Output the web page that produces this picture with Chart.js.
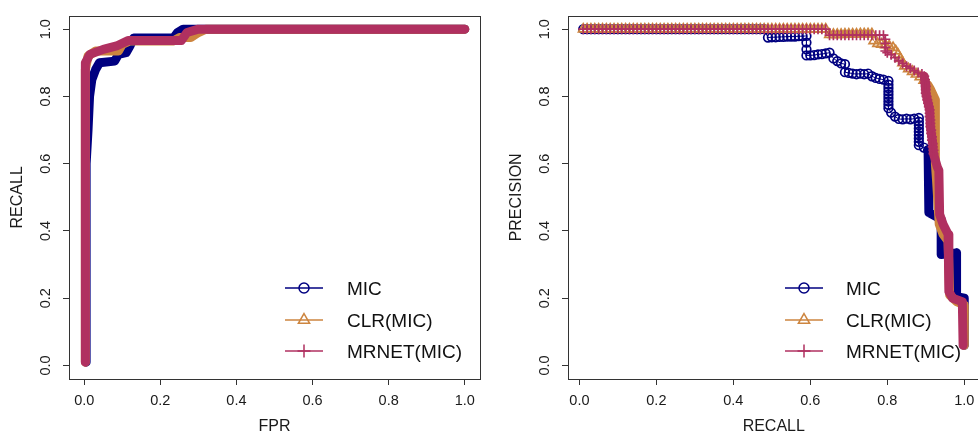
<!DOCTYPE html>
<html>
<head>
<meta charset="utf-8">
<title>ROC / PR</title>
<script src="https://cdn.jsdelivr.net/npm/chart.js@4.4.1/dist/chart.umd.min.js"></script>
<style>
  html, body { margin: 0; padding: 0; background: #fff; overflow: hidden; }
  #wrap { position: relative; width: 978px; height: 436px; overflow: hidden; }
  #rocChart { position: absolute; left: 0; top: 0; }
  #prChart { position: absolute; left: 489px; top: 0; }
</style>
</head>
<body>
<div id="wrap">
  <canvas id="rocChart" width="489" height="436"></canvas>
  <canvas id="prChart" width="500" height="436"></canvas>
</div>
<script>
// ── series ─────────────────────────────
const SERIES = ['MIC', 'CLR(MIC)', 'MRNET(MIC)'];
const COLORS = ['#000080', '#CD853F', '#B03060'];
const MARKERS = ['circle', 'triangle', 'cross'];
const TICKS = [0, 0.2, 0.4, 0.6, 0.8, 1.0];

// ROC curves, [FPR, RECALL]
const rocMic = [[0.005,0.01],[0.005,0.6],[0.01,0.7],[0.014,0.8],[0.02,0.85],[0.03,0.88],[0.04,0.9],
  [0.08,0.905],[0.09,0.925],[0.11,0.93],[0.12,0.95],[0.13,0.974],[0.235,0.974],[0.245,0.99],[0.26,1.0],[1.0,1.0]];
const rocClr = [[0.003,0.01],[0.003,0.88],[0.01,0.92],[0.03,0.935],[0.09,0.935],[0.10,0.955],[0.12,0.965],
  [0.235,0.965],[0.25,0.975],[0.28,0.975],[0.30,0.99],[0.32,1.0],[1.0,1.0]];
const rocMrnet = [[0.003,0.01],[0.003,0.9],[0.015,0.925],[0.05,0.94],[0.085,0.95],[0.115,0.966],
  [0.255,0.966],[0.27,0.99],[0.30,1.0],[1.0,1.0]];

// PR curves, [RECALL, PRECISION]; leading run at precision 1
const prTopRecall = [0.01,0.02,0.03,0.04,0.05,0.06,0.07,0.08,0.09,0.10,
  0.11,0.12,0.13,0.14,0.15,0.16,0.17,0.18,0.19,0.20,
  0.21,0.22,0.23,0.24,0.25,0.26,0.27,0.28,0.29,0.30,
  0.31,0.32,0.33,0.34,0.35,0.36,0.37,0.38,0.39,0.40,
  0.41,0.42,0.43,0.44,0.45,0.46,0.47,0.48,0.49,0.50,
  0.51,0.52,0.53,0.54,0.55,0.56,0.57,0.58,0.59,0.60,
  0.61,0.62,0.63,0.64];
const prMicTopEnd = 0.48;
const prRankTopEnd = 0.64;

const prMicPts = [[0.49,0.975],[0.50,0.976],[0.51,0.976],[0.52,0.977],[0.53,0.977],[0.54,0.978],[0.55,0.978],
  [0.56,0.978],[0.57,0.979],[0.58,0.979],[0.59,0.98],[0.59,0.96],[0.59,0.94],[0.59,0.922],
  [0.60,0.922],[0.61,0.923],[0.62,0.925],[0.63,0.926],[0.64,0.928],[0.65,0.93],
  [0.66,0.913],[0.67,0.905],[0.68,0.898],[0.69,0.896],[0.69,0.872],[0.70,0.87],[0.71,0.868],[0.72,0.866],
  [0.73,0.868],[0.74,0.866],[0.75,0.868],[0.76,0.86],[0.77,0.855],[0.78,0.852],[0.79,0.85],[0.803,0.846],
  [0.803,0.835],[0.803,0.825],[0.803,0.815],[0.803,0.805],[0.803,0.795],[0.803,0.785],[0.803,0.775],[0.803,0.765],
  [0.81,0.752],[0.82,0.74],[0.83,0.733],[0.84,0.732],[0.85,0.734],[0.86,0.732],[0.87,0.734],[0.882,0.736],
  [0.882,0.725],[0.882,0.715],[0.882,0.705],[0.882,0.695],[0.882,0.685],[0.882,0.675],[0.882,0.665],[0.882,0.655],
  [0.895,0.648],[0.906,0.64]];
const prMicTail = [[0.906,0.64],[0.908,0.455],[0.94,0.435],[0.94,0.33],[0.98,0.335],[0.98,0.205],[1.0,0.2],[1.0,0.06]];

const prClrPts = [[0.65,0.984],[0.66,0.984],[0.67,0.984],[0.68,0.984],[0.69,0.985],[0.70,0.985],[0.71,0.985],
  [0.72,0.985],[0.73,0.986],[0.74,0.986],[0.75,0.986],[0.76,0.986],
  [0.765,0.965],[0.775,0.957],[0.785,0.955],[0.795,0.953],[0.805,0.95],[0.815,0.945],[0.822,0.935],[0.828,0.925],
  [0.834,0.912],[0.84,0.9],[0.845,0.89],[0.855,0.882],[0.865,0.874],[0.875,0.866],[0.885,0.858],[0.895,0.848],
  [0.905,0.835],[0.912,0.822]];
const prClrTail = [[0.905,0.835],[0.912,0.822],[0.925,0.79],[0.925,0.6],[0.928,0.55],[0.935,0.42],[0.945,0.39],
  [0.958,0.37],[0.962,0.21],[0.98,0.19],[1.0,0.18],[1.0,0.06]];

const prMrnetPts = [[0.65,0.982],[0.66,0.982],[0.67,0.982],[0.68,0.982],[0.69,0.982],[0.70,0.982],[0.71,0.982],
  [0.72,0.982],[0.73,0.982],[0.74,0.982],[0.75,0.982],[0.76,0.982],[0.77,0.982],[0.78,0.982],[0.79,0.982],
  [0.795,0.97],[0.795,0.958],[0.795,0.946],[0.795,0.935],
  [0.80,0.93],[0.81,0.924],[0.82,0.915],[0.83,0.906],[0.84,0.898],[0.85,0.89],[0.86,0.884],[0.87,0.877],
  [0.88,0.871],[0.89,0.867],[0.896,0.86],
  [0.898,0.85],[0.898,0.84],[0.9,0.83],[0.9,0.82],[0.9,0.81],[0.902,0.8],[0.904,0.79],[0.906,0.78],[0.908,0.77],
  [0.91,0.76],[0.91,0.75],[0.91,0.74],[0.912,0.73],[0.912,0.72],[0.912,0.71],[0.914,0.7],[0.914,0.69],
  [0.916,0.68],[0.916,0.67],[0.918,0.66],[0.918,0.65],[0.92,0.64],[0.92,0.63]];
const prMrnetTail = [[0.896,0.86],[0.898,0.84],[0.9,0.81],[0.91,0.76],[0.912,0.71],[0.918,0.66],[0.92,0.63],
  [0.93,0.59],[0.934,0.58],[0.936,0.45],[0.945,0.42],[0.958,0.39],[0.96,0.22],[0.97,0.2],[0.995,0.19],[0.997,0.06]];

// ── helpers ────────────────────────────
Chart.defaults.font.family = '"Liberation Sans", Arial, Helvetica, sans-serif';
Chart.defaults.color = '#1a1a1a';

const INK = '#333333';
const MARK_R = [4.3, 5.5, 5];
const LEGEND_R = [5, 6.5, 6.5];

const pts = arr => arr.map(([x, y]) => ({ x, y }));
const topRun = end => prTopRecall.filter(r => r <= end + 1e-9).map(r => [r, 1]);

// dense stretches where the markers merge into a solid stroke
function band(data, i, order, width) {
  return {
    label: SERIES[i], data: pts(data), showLine: true, order,
    borderColor: COLORS[i], borderWidth: width, pointRadius: 0,
    borderJoinStyle: 'round', borderCapStyle: 'round', tension: 0
  };
}

function marked(data, i, order) {
  return {
    label: SERIES[i], data: pts(data), showLine: true, order,
    borderColor: COLORS[i], borderWidth: 1, tension: 0,
    pointStyle: MARKERS[i], pointRadius: MARK_R[i], pointBorderWidth: 1.7,
    pointBorderColor: COLORS[i], pointBackgroundColor: 'rgba(0,0,0,0)'
  };
}

function axes(xMin, xMax, xTitle, yTitle, yTitlePad, yWidth) {
  const tickFont = { size: 14.5 };
  const common = {
    type: 'linear',
    afterBuildTicks: s => { s.ticks = TICKS.map(v => ({ value: v })); },
    grid: { drawOnChartArea: false, drawTicks: true, tickLength: 6, tickColor: INK, tickWidth: 1 },
    border: { display: false }
  };
  return {
    x: { ...common, min: xMin, max: xMax,
      afterFit: s => { s.height = 57; },
      ticks: { font: tickFont, padding: 7, autoSkip: false, maxRotation: 0, callback: v => v.toFixed(1) },
      title: { display: true, text: xTitle, font: { size: 16 }, padding: { top: 0, bottom: 0 } } },
    y: { ...common, min: -0.04, max: 1.04,
      afterFit: s => { s.width = yWidth; },
      ticks: { font: tickFont, padding: 7, autoSkip: false, minRotation: 90, maxRotation: 90,
        crossAlign: 'center', callback: v => v.toFixed(1) },
      title: { display: true, text: yTitle, font: { size: 16 }, padding: { top: yTitlePad, bottom: 0 } } }
  };
}

const plotBox = {
  id: 'plotBox',
  beforeDatasetsDraw(chart) {
    const { ctx, chartArea: a } = chart;
    ctx.save();
    ctx.strokeStyle = INK;
    ctx.lineWidth = 1;
    ctx.strokeRect(Math.round(a.left) + 0.5, Math.round(a.top) + 0.5,
      Math.round(a.right - a.left), Math.round(a.bottom - a.top));
    ctx.restore();
  }
};

const curveLegend = {
  id: 'curveLegend',
  afterDraw(chart, args, o) {
    const ctx = chart.ctx;
    ctx.save();
    SERIES.forEach((name, i) => {
      const y = o.rows[i];
      ctx.strokeStyle = COLORS[i];
      ctx.lineWidth = 1.3;
      ctx.beginPath();
      ctx.moveTo(o.x0, y);
      ctx.lineTo(o.x1, y);
      ctx.stroke();
      ctx.fillStyle = 'rgba(0,0,0,0)';
      ctx.lineWidth = 1.5;
      Chart.helpers.drawPoint(ctx, { pointStyle: MARKERS[i], radius: LEGEND_R[i], borderWidth: 1.5, rotation: 0 },
        (o.x0 + o.x1) / 2, y);
      ctx.fillStyle = '#111';
      ctx.font = '19px "Liberation Sans", Arial, sans-serif';
      ctx.textAlign = 'left';
      ctx.textBaseline = 'middle';
      ctx.fillText(name, o.tx, y + 1.5);
    });
    ctx.restore();
  }
};

function baseOptions(pad, scales, legendPos) {
  return {
    responsive: false,
    animation: false,
    layout: { padding: pad },
    scales,
    plugins: { legend: { display: false }, tooltip: { enabled: false }, curveLegend: legendPos }
  };
}

// ── ROC panel ──────────────────────────
new Chart(document.getElementById('rocChart'), {
  type: 'scatter',
  data: {
    datasets: [
      band(rocMrnet, 2, 0, 9),
      band(rocClr, 1, 1, 9),
      band(rocMic, 0, 2, 9)
    ]
  },
  options: baseOptions({ left: 0, top: 11, right: 9, bottom: 0 },
    axes(-0.04, 1.04, 'FPR', 'RECALL', 8, 69),
    { x0: 285, x1: 323, tx: 347, rows: [288, 320, 351] }),
  plugins: [plotBox, curveLegend]
});

// ── PR panel ───────────────────────────
new Chart(document.getElementById('prChart'), {
  type: 'scatter',
  data: {
    datasets: [
      marked(topRun(prRankTopEnd).concat(prMrnetPts), 2, 0),
      band(prMrnetTail, 2, 1, 9),
      marked(topRun(prRankTopEnd).concat(prClrPts), 1, 2),
      band(prClrTail, 1, 3, 9),
      marked(topRun(prMicTopEnd).concat(prMicPts), 0, 4),
      band(prMicTail, 0, 5, 9)
    ]
  },
  options: baseOptions({ left: 0, top: 11, right: 9.5, bottom: 0 },
    axes(-0.0296, 1.0396, 'RECALL', 'PRECISION', 18, 79),
    { x0: 296, x1: 334, tx: 357, rows: [288, 320, 351] }),
  plugins: [plotBox, curveLegend]
});
</script>
</body>
</html>
